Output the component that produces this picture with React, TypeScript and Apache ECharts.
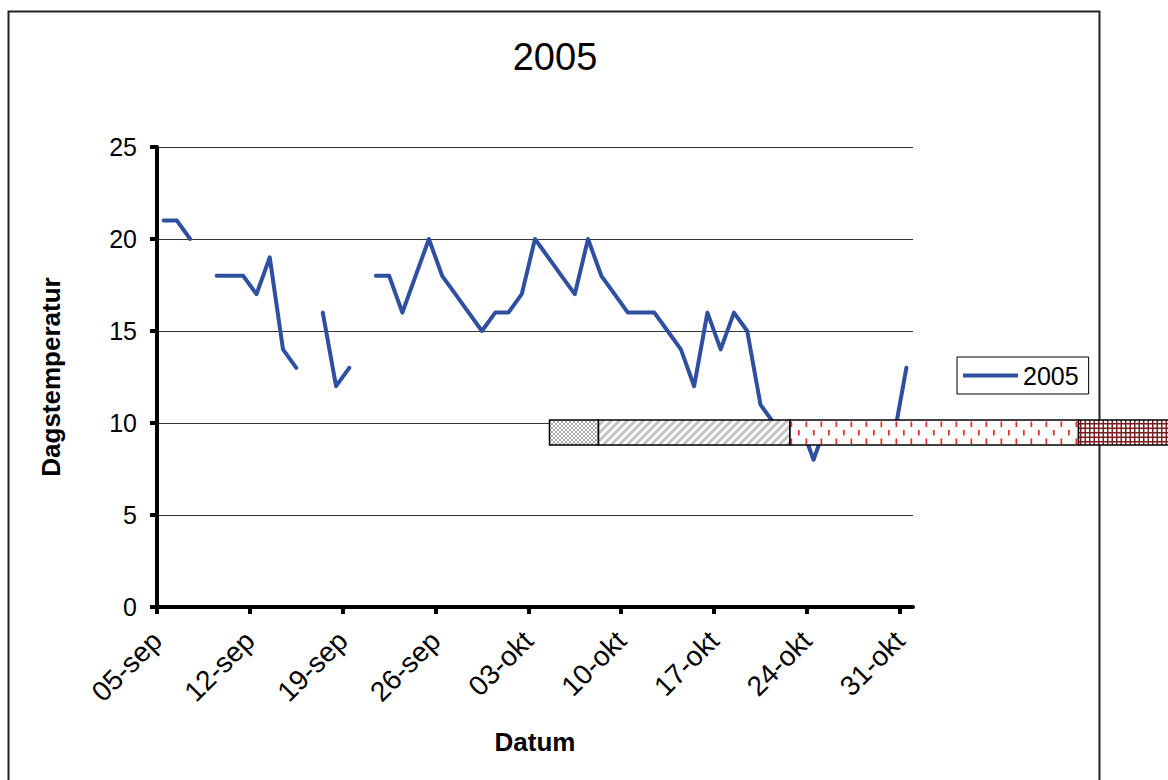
import React, { useEffect, useRef } from "react";
import * as echarts from "echarts";

// Days counted from 05-sep 2005 (index 0) to 31-okt (index 56)
const tickDays = [0, 7, 14, 21, 28, 35, 42, 49, 56];
const tickLabels = ["05-sep", "12-sep", "19-sep", "26-sep", "03-okt", "10-okt", "17-okt", "24-okt", "31-okt"];
const yTicks = [0, 5, 10, 15, 20, 25];
const temps2005: (number | null)[] = [
  21, 21, 20, null, 18, 18, 18, 17, 19, 14, 13, null, 16, 12, 13, null,
  18, 18, 16, 18, 20, 18, 17, 16, 15, 16, 16, 17, 20, 19, 18, 17, 20, 18,
  17, 16, 16, 16, 15, 14, 12, 16, 14, 16, 15, 11, 10, 10, 10, 8, 10, 9, 9,
  9, 9, 9, 13,
];

const FONT = "'Liberation Sans', Arial, sans-serif";
const LINE_COLOR = "#2F4FA2";

function svgUrl(svg: string) {
  return "data:image/svg+xml;charset=utf-8," + encodeURIComponent(svg);
}

const crossTile = svgUrl(
  "<svg xmlns='http://www.w3.org/2000/svg' width='4' height='4'><rect width='4' height='4' fill='#fff'/><path d='M0 0L4 4M4 0L0 4' stroke='#a8a8a8' stroke-width='1'/></svg>"
);
const stripeTile = svgUrl(
  "<svg xmlns='http://www.w3.org/2000/svg' width='8' height='8'><rect width='8' height='8' fill='#fff'/><path d='M-1 9L9 -1M-1 1L1 -1M7 9L9 7' stroke='#c2c2c2' stroke-width='3'/></svg>"
);
const dashTile = svgUrl(
  "<svg xmlns='http://www.w3.org/2000/svg' width='15' height='17'><rect width='15' height='17' fill='#fff'/><rect x='3' y='5' width='1.7' height='5.5' fill='#f02828'/><rect x='10.5' y='13.5' width='1.7' height='5.5' fill='#f02828'/><rect x='10.5' y='-3.5' width='1.7' height='5.5' fill='#f02828'/></svg>"
);
const gridTile = svgUrl(
  "<svg xmlns='http://www.w3.org/2000/svg' width='9' height='9'><rect width='9' height='9' fill='#fff'/><rect x='0' y='0' width='1.5' height='9' fill='#7a1f1f'/><rect x='4.5' y='0' width='1.5' height='9' fill='#7a1f1f'/><rect x='0' y='0' width='9' height='1.5' fill='#7a1f1f'/><rect x='0' y='4.5' width='9' height='1.5' fill='#7a1f1f'/></svg>"
);

export default function App() {
  const ref = useRef<HTMLDivElement>(null);

  useEffect(() => {
    if (!ref.current) return;
    const chart = echarts.init(ref.current, null, { renderer: "svg" });

    const seriesData = temps2005.map((v, i) => [i + 0.5, v === null ? "-" : v]);

    const barY = 420;
    const barH = 25;
    const pat = (image: string, w: number, h: number) => ({
      image,
      repeat: "repeat",
      imageWidth: w,
      imageHeight: h,
    });

    const option: any = {
      animation: false,
      backgroundColor: "#fff",
      title: {
        text: "2005",
        left: 550,
        top: 33,
        textAlign: "center",
        textStyle: { fontFamily: FONT, fontSize: 38, fontWeight: "normal", color: "#000" },
      },
      legend: {
        data: ["2005"],
        left: 957,
        top: 357,
        orient: "vertical",
        padding: [6, 10, 6, 6],
        borderColor: "#000",
        borderWidth: 1,
        itemWidth: 55,
        itemHeight: 4,
        icon: "rect",
        textStyle: { fontFamily: FONT, fontSize: 25, color: "#000" },
      },
      grid: { left: 157, right: 255, top: 147, bottom: 173, containLabel: false },
      xAxis: {
        type: "value",
        min: 0,
        max: 57,
        name: "Datum",
        nameLocation: "middle",
        nameGap: 122,
        nameTextStyle: { fontFamily: FONT, fontSize: 26, fontWeight: "bold", color: "#000" },
        axisLine: { show: true, lineStyle: { color: "#000", width: 4 } },
        axisTick: {
          show: true,
          length: 7,
          customValues: tickDays,
          lineStyle: { color: "#000", width: 4 },
        },
        splitLine: { show: false },
        axisLabel: {
          customValues: tickDays,
          rotate: 45,
          margin: 29,
          fontFamily: FONT,
          fontSize: 28,
          color: "#000",
          formatter: (v: number) => {
            const idx = tickDays.indexOf(Math.round(v));
            return idx >= 0 ? tickLabels[idx] : "";
          },
        },
      },
      yAxis: {
        type: "value",
        min: yTicks[0],
        max: yTicks[yTicks.length - 1],
        interval: 5,
        name: "Dagstemperatur",
        nameLocation: "middle",
        nameRotate: 90,
        nameGap: 93,
        nameTextStyle: { fontFamily: FONT, fontSize: 26, fontWeight: "bold", color: "#000" },
        axisLine: { show: true, lineStyle: { color: "#000", width: 4 } },
        axisTick: { show: true, length: 7, lineStyle: { color: "#000", width: 4 } },
        splitLine: { show: true, lineStyle: { color: "#333", width: 1 } },
        axisLabel: { margin: 20, fontFamily: FONT, fontSize: 25, color: "#000" },
      },
      series: [
        {
          name: "2005",
          type: "line",
          data: seriesData,
          showSymbol: false,
          connectNulls: false,
          color: LINE_COLOR,
          lineStyle: { color: LINE_COLOR, width: 4, cap: "round", join: "round" },
          z: 3,
        },
      ],
      graphic: [
        {
          type: "rect",
          z: 0,
          silent: true,
          shape: { x: 8.5, y: 11.5, width: 1091, height: 800 },
          style: { fill: "none", stroke: "#222", lineWidth: 2 },
        },
        {
          type: "rect",
          z: 100,
          silent: true,
          shape: { x: 549.5, y: barY, width: 49, height: barH },
          style: { fill: pat(crossTile, 4, 4), stroke: "#000", lineWidth: 1.5 },
        },
        {
          type: "rect",
          z: 100,
          silent: true,
          shape: { x: 598.5, y: barY, width: 191.5, height: barH },
          style: { fill: pat(stripeTile, 8, 8), stroke: "#000", lineWidth: 1.5 },
        },
        {
          type: "rect",
          z: 100,
          silent: true,
          shape: { x: 790, y: barY, width: 288.5, height: barH },
          style: { fill: pat(dashTile, 15, 17), stroke: "#000", lineWidth: 1.5 },
        },
        {
          type: "rect",
          z: 100,
          silent: true,
          shape: { x: 1078.5, y: barY, width: 95, height: barH },
          style: { fill: pat(gridTile, 9, 9), stroke: "#000", lineWidth: 1.5 },
        },
      ],
    };

    chart.setOption(option);
    return () => chart.dispose();
  }, []);

  return (
    <div
      ref={ref}
      style={{ position: "absolute", left: 0, top: 0, width: 1168, height: 780, background: "#fff" }}
    />
  );
}
